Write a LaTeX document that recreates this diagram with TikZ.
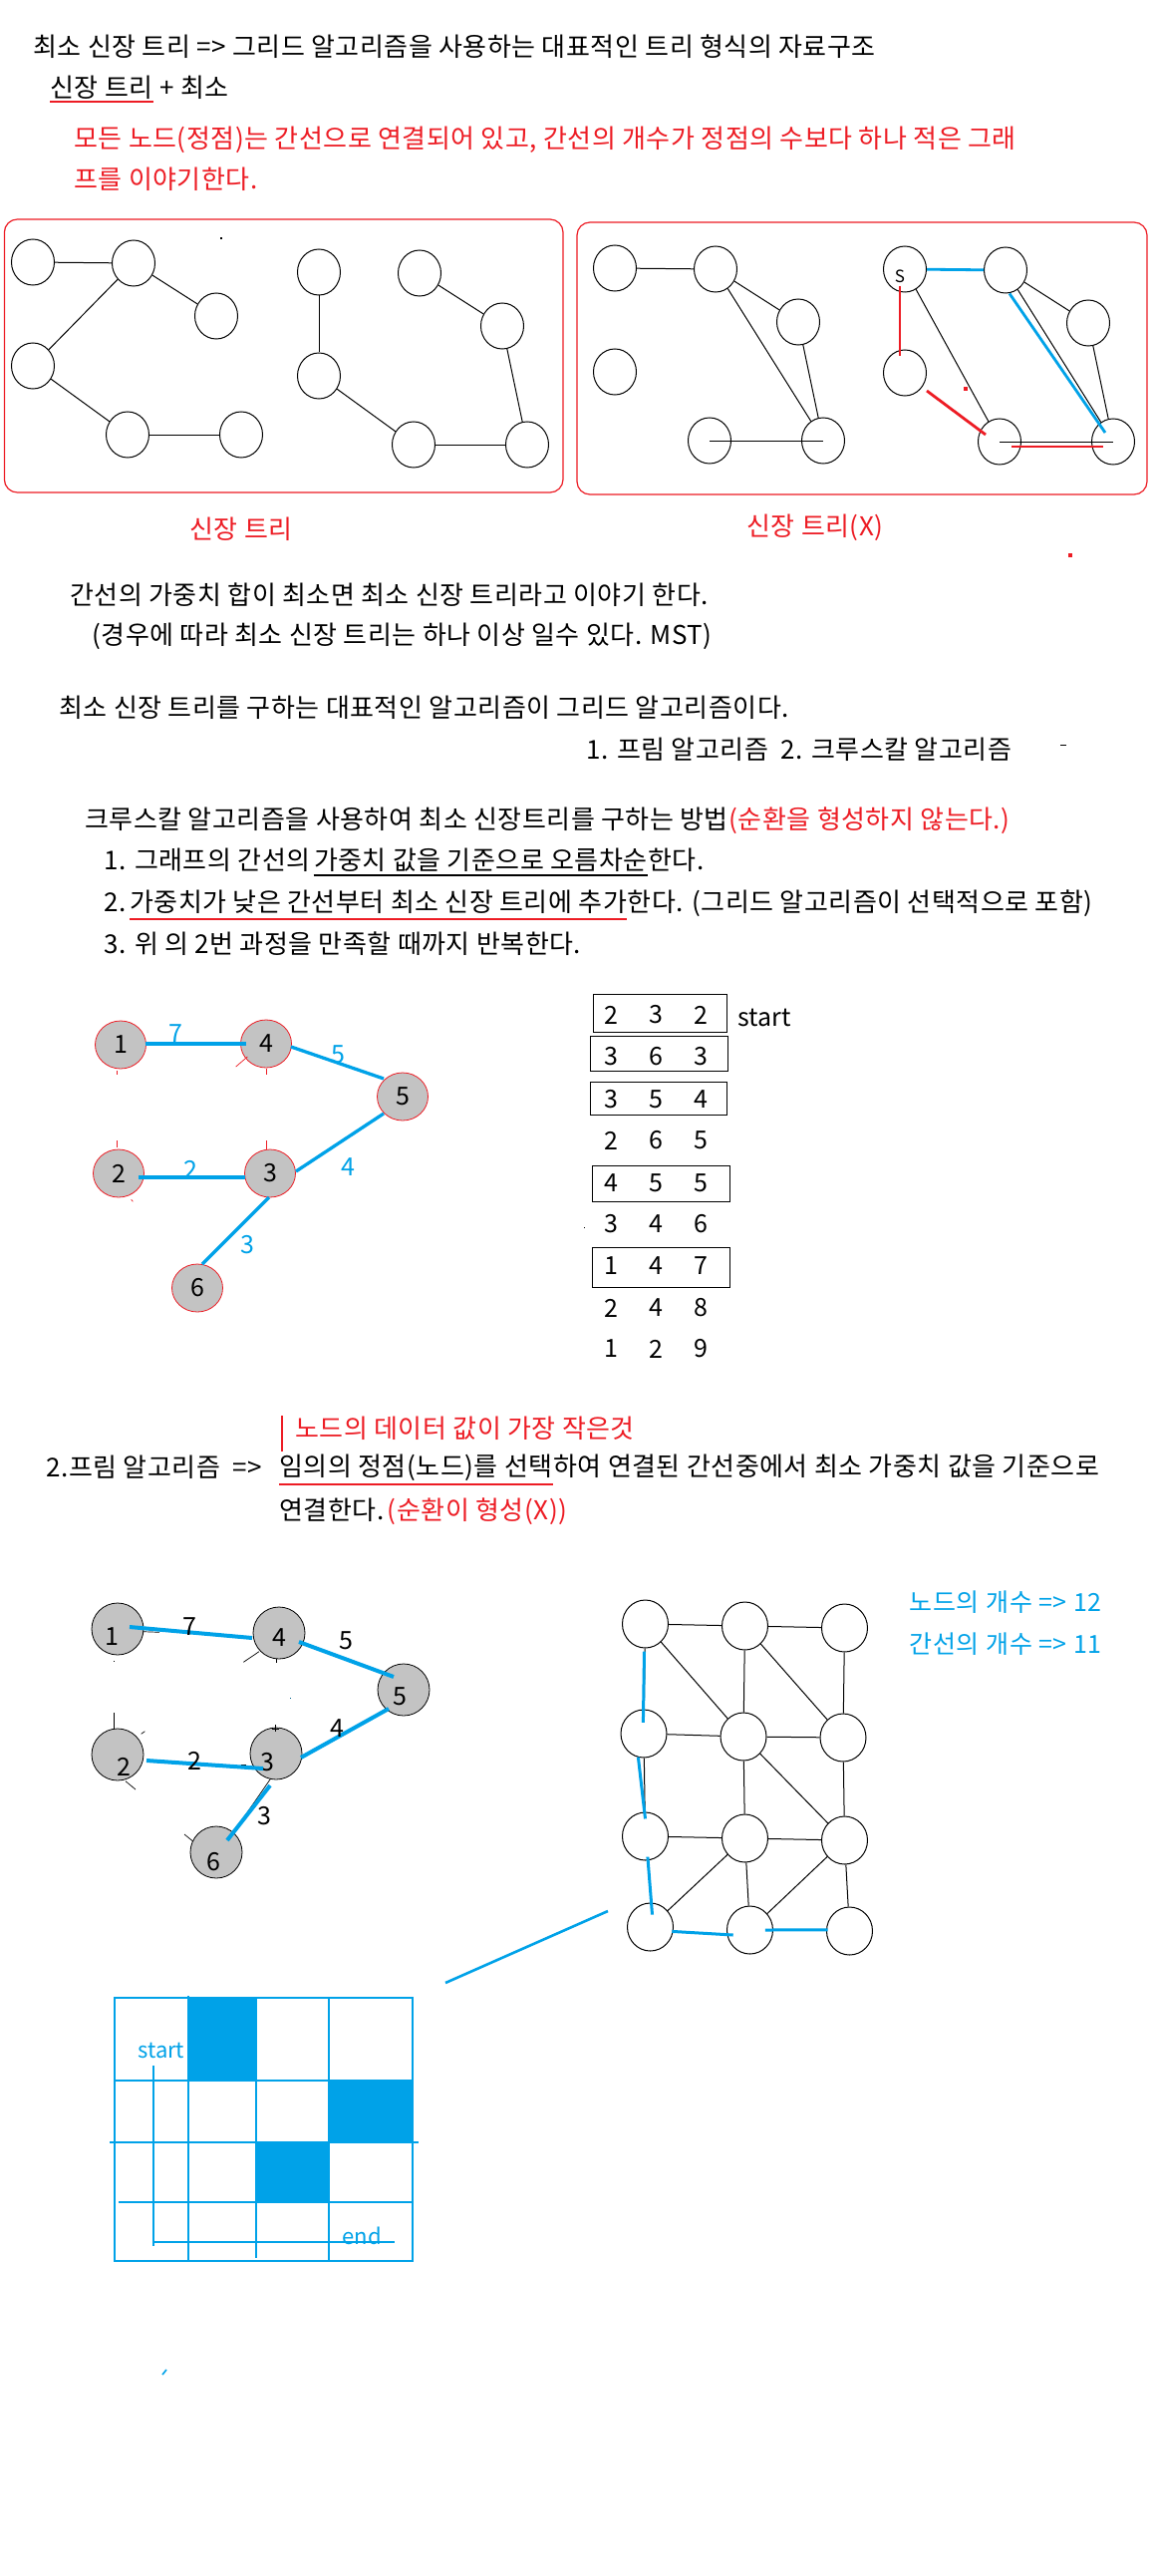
\documentclass[tikz,border=0pt]{standalone}
\usepackage{fontspec}
\setmainfont{Noto Sans CJK KR}
\usetikzlibrary{shapes.geometric}
\definecolor{mred}{RGB}{237,28,36}
\definecolor{mblue}{RGB}{0,162,232}
\definecolor{ngray}{RGB}{195,195,195}
\newcommand\myfs[1]{\fontsize{#1}{#1}\selectfont}
\newcommand\txfont{\fontsize{13}{13}\selectfont\addfontfeature{LetterSpace=2}}
\begin{document}
\begin{tikzpicture}[x=0.5pt,y=-0.5pt,
  txt/.style={inner sep=0pt,anchor=west,font=\txfont},
  cnt/.style={inner sep=0pt,anchor=base west,font=\txfont},
  gc/.style={draw,ellipse,line width=0.5pt,minimum width=21.5pt,minimum height=23pt,inner sep=0pt},
  kn/.style={draw=mred,fill=ngray,ellipse,line width=0.4pt,minimum width=25.5pt,minimum height=24pt,inner sep=0pt,font=\myfs{12.5}},
  pn/.style={draw,fill=ngray,circle,line width=0.4pt,minimum size=26pt,inner sep=0pt},
  gn/.style={draw,ellipse,line width=0.5pt,minimum width=23pt,minimum height=24pt,inner sep=0pt},
  ln/.style={line width=0.5pt},
  kedge/.style={mblue,line width=1.65pt},
  pedge/.style={mblue,line width=2pt},
  redge/.style={mred,line width=1.4pt},
  bedge/.style={mblue,line width=1.4pt},
  gedge/.style={mblue,line width=1.5pt},
  lab/.style={inner sep=0pt,font=\myfs{12.5}},
  tick/.style={line width=0.35pt},
]
\useasboundingbox (0,0) rectangle (1160,2584);
\fill[white] (0,0) rectangle (1160,2584);

% ---------- header text ----------
\node[txt] (h1) at (33,47) {최소 신장 트리 => 그리드 알고리즘을 사용하는 대표적인 트리 형식의 자료구조};
\node[txt] (h2a) at (50,88) {신장 트리};
\node[cnt] (h2b) at (h2a.base east) {\ + 최소};
\draw[mred,line width=0.6pt] (h2a.west |- 0,102) -- (h2a.east |- 0,102);
\node[txt,mred] (h3) at (74,140) {모든 노드(정점)는 간선으로 연결되어 있고, 간선의 개수가 정점의 수보다 하나 적은 그래};
\node[txt,mred] (h4) at (74,180) {프를 이야기한다.};

% ---------- boxes ----------
\draw[mred,line width=0.6pt,rounded corners=6.5pt] (4.4,220) rectangle (565,494);
\draw[mred,line width=0.6pt,rounded corners=6.5pt] (579,223) rectangle (1151,496);

% left box graphs
\node[gc] (A1) at (33,263) {};
\node[gc] (A2) at (134,264) {};
\node[gc] (A3) at (217,317) {};
\node[gc] (A4) at (33,367) {};
\node[gc] (A5) at (128,436) {};
\node[gc] (A6) at (242,436) {};
\draw[ln] (A1) -- (A2);
\draw[ln] (A2) -- (A3);
\draw[ln] (A2) -- (A4);
\draw[ln] (A4) -- (A5);
\draw[ln] (A5) -- (A6);
\node[gc] (B1) at (320,273) {};
\node[gc] (B2) at (421,274) {};
\node[gc] (B3) at (504,327) {};
\node[gc] (B4) at (320,377) {};
\node[gc] (B5) at (415,446) {};
\node[gc] (B6) at (529,446) {};
\draw[ln] (B1) -- (B4);
\draw[ln] (B4) -- (B5);
\draw[ln] (B2) -- (B3);
\draw[ln] (B3) -- (B6);
\draw[ln] (B5) -- (B6);
\fill (221,238) rectangle (223,240);

% right box graphs
\node[gc] (C1) at (617,269) {};
\node[gc] (C2) at (718,270) {};
\node[gc] (C3) at (801,323) {};
\node[gc] (C4) at (617,373) {};
\node[gc] (C5) at (712,442) {};
\node[gc] (C6) at (826,442) {};
\draw[ln] (C1) -- (C2);
\draw[ln] (C2) -- (C3);
\draw[ln] (C2) -- (C6);
\draw[ln] (C3) -- (C6);
\draw[ln] (C5.center) -- (C6.center);
\node[gc] (D1) at (908,270) {};
\node[gc] (D2) at (1009,271) {};
\node[gc] (D3) at (1092,324) {};
\node[gc] (D4) at (908,374) {};
\node[gc] (D5) at (1003,443) {};
\node[gc] (D6) at (1117,443) {};
\node[inner sep=0pt,font=\myfs{8.5}] (S) at (903,277) {S};
\draw[ln] (D1) -- (D2);
\draw[ln] (D1) -- (D5);
\draw[ln] (D2) -- (D3);
\draw[ln] (D2) -- (D6);
\draw[ln] (D3) -- (D6);
\draw[ln] (D5.center) -- (D6.center);
\draw[bedge] (D1) -- (D2);
\draw[bedge] ([xshift=2pt]D2.south) -- ([xshift=-4pt,yshift=4.5pt]D6.center);
\draw[redge] ([xshift=-2.5pt,yshift=-8.5pt]D1.center) -- ([xshift=-2.5pt,yshift=8.5pt]D4.center);
\draw[redge] ([xshift=11pt,yshift=-9pt]D4.center) -- ([xshift=-7pt,yshift=3.5pt]D5.center);
\draw[redge] ([xshift=6pt,yshift=-2.5pt]D5.center) -- ([xshift=-5pt,yshift=-2.5pt]D6.center);
\fill[mred] (967,388) rectangle (971,392);
\fill[mred] (1072,555) rectangle (1076,559);

\node[txt,mred] (cap1) at (190,531) {신장 트리};
\node[txt,mred] (cap2) at (749,529) {신장 트리(X)};

% ---------- explanation text ----------
\node[txt] (t1) at (70,597) {간선의 가중치 합이 최소면 최소 신장 트리라고 이야기 한다.};
\node[txt] (t2) at (92,638) {(경우에 따라 최소 신장 트리는 하나 이상 일수 있다. MST)};
\node[txt] (t3) at (59,710) {최소 신장 트리를 구하는 대표적인 알고리즘이 그리드 알고리즘이다.};
\node[txt] (t4) at (588,752) {1. 프림 알고리즘\ \ 2. 크루스칼 알고리즘};
\draw[line width=0.5pt] (1064,747) -- (1070,747);
\node[txt] (t5a) at (85,822) {크루스칼 알고리즘을 사용하여 최소 신장트리를 구하는 방법};
\node[cnt,mred] (t5b) at (t5a.base east) {(순환을 형성하지 않는다.)};
\node[txt] (t6a) at (104,863) {1. 그래프의 간선의};
\node[cnt] (t6s) at (t6a.base east) {\ };
\node[cnt] (t6b) at (t6s.base east) {가중치 값을 기준으로 오름차순};
\node[cnt] (t6c) at (t6b.base east) {한다.};
\draw[line width=1pt] (t6b.west |- 0,878) -- (t6b.east |- 0,878);
\node[txt] (t7a) at (104,905) {2.};
\node[cnt] (t7s) at (t7a.base east) {\ };
\node[cnt] (t7b) at (t7s.base east) {가중치가 낮은 간선부터 최소 신장 트리에 추가};
\node[cnt] (t7c) at (t7b.base east) {한다. (그리드 알고리즘이 선택적으로 포함)};
\draw[mred,line width=1pt] (t7b.west |- 0,922) -- (t7b.east |- 0,922);
\node[txt] (t8) at (104,947) {3. 위 의 2번 과정을 만족할 때까지 반복한다.};

% ---------- Kruskal graph ----------
\node[kn] (K1) at (121,1048) {1};
\node[kn] (K4) at (267,1047) {4};
\node[kn] (K5) at (404,1100) {5};
\node[kn] (K2) at (119,1177) {2};
\node[kn] (K3) at (271,1177) {3};
\node[kn] (K6) at (198,1292) {6};
\draw[kedge] ([xshift=12.5pt,yshift=0.5pt]K1.center) -- ([xshift=-10pt]K4.center);
\draw[kedge] ([xshift=12.5pt,yshift=-1.5pt]K4.center) -- ([xshift=-9.5pt,yshift=9pt]K5.center);
\draw[kedge] ([xshift=-9.5pt,yshift=-8.5pt]K5.center) -- ([xshift=13pt,yshift=1pt]K3.center);
\draw[kedge] ([xshift=10pt,yshift=-2pt]K2.center) -- ([xshift=-12.5pt,yshift=-2pt]K3.center);
\draw[kedge] ([xshift=-0.5pt,yshift=-12pt]K3.center) -- ([xshift=2.5pt,yshift=12pt]K6.center);
\node[lab,mblue] (kl7) at (176,1037) {7};
\node[lab,mblue] (kl5) at (339,1058) {5};
\node[lab,mblue] (kl4) at (349,1171) {4};
\node[lab,mblue] (kl2) at (191,1173) {2};
\node[lab,mblue] (kl3) at (248,1249) {3};
\draw[tick,mred] (117.3,1074.3) -- (117.3,1078.3);
\draw[tick,mred] (236.7,1070) -- (248.3,1060);
\draw[tick,mred] (267.3,1071.7) -- (267.3,1078.3);
\draw[tick,mred] (117.3,1144.3) -- (117.3,1151);
\draw[tick,mred] (267.3,1144.3) -- (267.3,1153.3);
\draw[tick,mred] (131.7,1203.3) -- (133.3,1205.3);

% ---------- edge table ----------
\draw[ln] (595,997) rectangle (729,1035);
\draw[ln] (592,1039) rectangle (730,1074);
\draw[ln] (592,1085) rectangle (729,1118);
\draw[ln] (594,1169) rectangle (732,1205);
\draw[ln] (594,1251) rectangle (732,1291);
\foreach \r/\a/\b/\c/\y in {1/2/3/2/1018,2/3/6/3/1060,3/3/5/4/1103,4/2/6/5/1144,5/4/5/5/1187,6/3/4/6/1228,7/1/4/7/1270,8/2/4/8/1312,9/1/2/9/1353}{
  \node[lab] (ta\r) at (613,\y) {\a};
  \node[lab] (tb\r) at (658,\y) {\b};
  \node[lab] (tc\r) at (703,\y) {\c};
}
\node[txt,font=\myfs{12.5}] (start1) at (740,1021) {start};
\fill (585.5,1230.5) rectangle (587,1232);

% ---------- Prim text ----------
\draw[mred,line width=1pt] (283,1420) -- (283,1456);
\node[txt,mred] (p0) at (296,1433) {노드의 데이터 값이 가장 작은것};
\node[txt] (p1) at (46,1472) {2.프림 알고리즘\ \ =>};
\node[txt] (p2a) at (280,1472) {임의의 정점(노드)를 선택};
\node[cnt] (p2b) at (p2a.base east) {하여 연결된 간선중에서 최소 가중치 값을 기준으로};
\draw[mred,line width=1pt] (p2a.west |- 0,1489) -- (p2a.east |- 0,1489);
\node[txt] (p3a) at (280,1515) {연결한다.};
\node[cnt] (p3s) at (p3a.base east) {\ };
\node[cnt,mred] (p3b) at (p3s.base east) {(순환이 형성(X))};

% ---------- Prim graph ----------
\node[pn] (P1) at (118,1634) {};
\node[pn] (P4) at (280,1638) {};
\node[pn] (P5) at (405,1695) {};
\node[pn] (P2) at (118,1760) {};
\node[pn] (P3) at (277,1759) {};
\node[pn] (P6) at (217,1858) {};
\node[lab] (pd1) at ([xshift=-3pt,yshift=-4pt]P1.center) {1};
\node[lab] (pd4) at ([yshift=-2.5pt]P4.center) {4};
\node[lab] (pd5) at ([xshift=-2pt,yshift=-3.5pt]P5.center) {5};
\node[lab] (pd2) at ([xshift=3pt,yshift=-6pt]P2.center) {2};
\node[lab] (pd3) at ([xshift=-4.5pt,yshift=-4.5pt]P3.center) {3};
\node[lab] (pd6) at ([xshift=-1.5pt,yshift=-5pt]P6.center) {6};
\draw[tick] (143.3,1636.7) -- (160,1637.3);
\draw[tick] (241.7,1770.7) -- (246.7,1770.7);
\draw[tick] (271.7,1784) -- (231.7,1841.7);
\draw[pedge] ([xshift=6pt,yshift=1pt]P1.center) -- ([xshift=-13.5pt,yshift=-2.5pt]P4.center);
\draw[pedge] ([xshift=10pt,yshift=-4.5pt]P4.center) -- ([xshift=-5pt,yshift=6.5pt]P5.center);
\draw[pedge] ([xshift=-7.5pt,yshift=-9.5pt]P5.center) -- ([xshift=12.5pt,yshift=-2pt]P3.center);
\draw[pedge] ([xshift=14.5pt,yshift=-3pt]P2.center) -- ([xshift=-6.5pt,yshift=-7.5pt]P3.center);
\draw[pedge] ([xshift=-3pt,yshift=-16pt]P3.center) -- ([xshift=5.5pt,yshift=6pt]P6.center);
\node[lab] (pl7) at (190,1632) {7};
\node[lab] (pl5) at (347,1646) {5};
\node[lab] (pl4) at (338,1734) {4};
\node[lab] (pl2) at (195,1766) {2};
\node[lab] (pl3) at (265,1822) {3};
\draw[tick] (244.3,1667.3) -- (260,1656.7);
\draw[tick] (277.7,1664) -- (277.7,1668.3);
\draw[tick] (114.3,1718.3) -- (114.3,1735);
\draw[tick] (141.7,1739.3) -- (145.3,1736.7);
\draw[tick] (126,1786.7) -- (136,1795);
\draw[tick] (276,1730) -- (276,1737.3);
\draw[tick] (272.7,1734) -- (280,1734);
\draw[tick] (185,1840) -- (193.3,1846.7);
\fill (113.8,1666.2) rectangle (114.8,1667.2);
\fill[mblue!60!black] (290.5,1702.5) rectangle (291.5,1703.5);

% ---------- grid graph ----------
\node[gn] (G11) at (647.5,1629) {};
\node[gn] (G12) at (747.5,1631) {};
\node[gn] (G13) at (847.5,1633) {};
\node[gn] (G21) at (646,1739) {};
\node[gn] (G22) at (746,1742) {};
\node[gn] (G23) at (846,1743) {};
\node[gn] (G31) at (647.5,1842) {};
\node[gn] (G32) at (747.5,1844) {};
\node[gn] (G33) at (847.5,1846) {};
\node[gn] (G41) at (652.5,1933) {};
\node[gn] (G42) at (752.5,1936) {};
\node[gn] (G43) at (852.5,1937) {};
\foreach \a/\b in {G11/G12,G12/G13,G11/G22,G12/G22,G12/G23,G13/G23,G21/G22,G22/G23,G22/G32,G22/G33,G23/G33,G31/G32,G32/G33,G32/G41,G32/G42,G33/G42,G33/G43,G11/G21,G21/G31}{
  \draw[ln] (\a) -- (\b);
}
\draw[gedge] ([xshift=-0.5pt,yshift=-13.8pt]G11.center) -- ([xshift=-0.3pt,yshift=5.6pt]G21.center);
\draw[gedge] ([xshift=-2.8pt,yshift=-11.8pt]G21.center) -- ([yshift=8.8pt]G31.center);
\draw[gedge] ([xshift=1.2pt,yshift=-10.3pt]G31.center) -- ([xshift=1pt,yshift=6.2pt]G41.center);
\draw[gedge] ([xshift=10.9pt,yshift=-2.2pt]G41.center) -- ([xshift=-8.4pt,yshift=-2.5pt]G42.center);
\draw[gedge] ([xshift=7.7pt]G42.center) -- ([xshift=-11pt,yshift=0.6pt]G43.center);
\node[txt,mblue,font=\myfs{12.5}\addfontfeature{LetterSpace=3}] (n12) at (912,1607) {노드의 개수 => 12};
\node[txt,mblue,font=\myfs{12.5}\addfontfeature{LetterSpace=3}] (n11) at (912,1649) {간선의 개수 => 11};

\coordinate (lk1) at (447,1989);
\coordinate (lk2) at (610,1917);
\draw[mblue,line width=1.3pt] (lk1) -- (lk2);

% ---------- maze grid ----------
\fill[mblue] (189,2004) rectangle (258,2087);
\fill[mblue] (330,2087) rectangle (414,2149);
\fill[mblue] (257,2149) rectangle (330,2209);
\begin{scope}[mblue,line width=1.35pt]
\draw (115,2004) rectangle (414,2268);
\draw (189,2002) -- (189,2267);
\draw (257,2004) -- (257,2265);
\draw (330,2003) -- (330,2267);
\draw (115,2087) -- (414,2087);
\draw (110,2149) -- (420,2149);
\draw (119,2209) -- (413,2209);
\draw (154,2072) -- (154,2253);
\draw (154,2249) -- (396,2249);
\end{scope}
\node[txt,mblue,font=\myfs{11}] (gs) at (138,2057) {start};
\node[txt,mblue,font=\myfs{11}] (ge) at (343,2243) {end};
\draw[mblue,line width=0.8pt] (163,2382) -- (167,2377);
\end{tikzpicture}
\end{document}
